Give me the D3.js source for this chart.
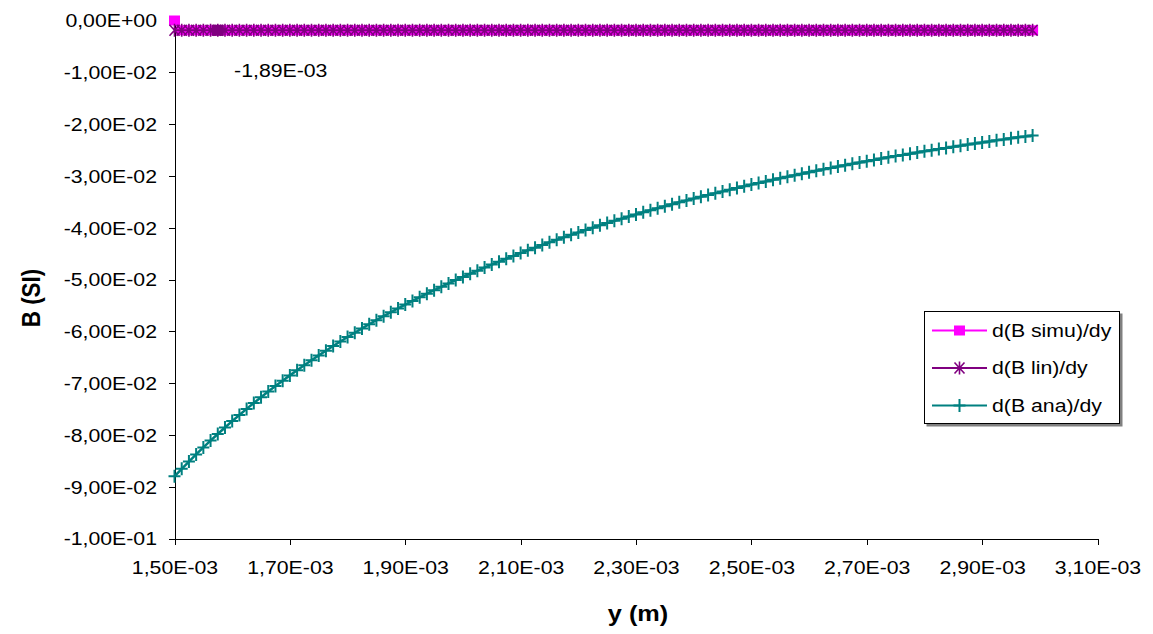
<!DOCTYPE html>
<html>
<head>
<meta charset="utf-8">
<script src="https://cdn.jsdelivr.net/npm/d3@7"></script>
<style>
  html, body { margin: 0; padding: 0; background: #fff; }
  svg { display: block; font-family: "Liberation Sans", Arial, sans-serif; }
</style>
</head>
<body>
<svg id="chart" width="1153" height="634"></svg>
<script>
// Sample positions along y, in millimetres (axis labels are in metres)
const positionsMm = [
  1.5, 1.5125, 1.525, 1.5375, 1.55, 1.5625, 1.575, 1.5875,
  1.6, 1.6125, 1.625, 1.6375, 1.65, 1.6625, 1.675, 1.6875,
  1.7, 1.7125, 1.725, 1.7375, 1.75, 1.7625, 1.775, 1.7875,
  1.8, 1.8125, 1.825, 1.8375, 1.85, 1.8625, 1.875, 1.8875,
  1.9, 1.9125, 1.925, 1.9375, 1.95, 1.9625, 1.975, 1.9875,
  2.0, 2.0125, 2.025, 2.0375, 2.05, 2.0625, 2.075, 2.0875,
  2.1, 2.1125, 2.125, 2.1375, 2.15, 2.1625, 2.175, 2.1875,
  2.2, 2.2125, 2.225, 2.2375, 2.25, 2.2625, 2.275, 2.2875,
  2.3, 2.3125, 2.325, 2.3375, 2.35, 2.3625, 2.375, 2.3875,
  2.4, 2.4125, 2.425, 2.4375, 2.45, 2.4625, 2.475, 2.4875,
  2.5, 2.5125, 2.525, 2.5375, 2.55, 2.5625, 2.575, 2.5875,
  2.6, 2.6125, 2.625, 2.6375, 2.65, 2.6625, 2.675, 2.6875,
  2.7, 2.7125, 2.725, 2.7375, 2.75, 2.7625, 2.775, 2.7875,
  2.8, 2.8125, 2.825, 2.8375, 2.85, 2.8625, 2.875, 2.8875,
  2.9, 2.9125, 2.925, 2.9375, 2.95, 2.9625, 2.975, 2.9875
];

// d(B ana)/dy
const dBanaDy = [
  -0.08800, -0.08655, -0.08514, -0.08376, -0.08241, -0.08110, -0.07982, -0.07857,
  -0.07734, -0.07615, -0.07498, -0.07384, -0.07273, -0.07164, -0.07057, -0.06953,
  -0.06851, -0.06752, -0.06654, -0.06559, -0.06465, -0.06374, -0.06285, -0.06197,
  -0.06111, -0.06027, -0.05945, -0.05864, -0.05785, -0.05708, -0.05632, -0.05558,
  -0.05485, -0.05413, -0.05343, -0.05275, -0.05207, -0.05141, -0.05076, -0.05012,
  -0.04950, -0.04889, -0.04829, -0.04770, -0.04712, -0.04655, -0.04599, -0.04544,
  -0.04490, -0.04437, -0.04385, -0.04334, -0.04283, -0.04234, -0.04186, -0.04138,
  -0.04091, -0.04045, -0.04000, -0.03955, -0.03911, -0.03868, -0.03826, -0.03784,
  -0.03743, -0.03703, -0.03663, -0.03624, -0.03585, -0.03548, -0.03510, -0.03474,
  -0.03438, -0.03402, -0.03367, -0.03333, -0.03299, -0.03265, -0.03232, -0.03200,
  -0.03168, -0.03137, -0.03106, -0.03075, -0.03045, -0.03015, -0.02986, -0.02957,
  -0.02929, -0.02901, -0.02874, -0.02846, -0.02820, -0.02793, -0.02767, -0.02741,
  -0.02716, -0.02691, -0.02666, -0.02642, -0.02618, -0.02595, -0.02571, -0.02548,
  -0.02526, -0.02503, -0.02481, -0.02459, -0.02438, -0.02416, -0.02396, -0.02375,
  -0.02354, -0.02334, -0.02314, -0.02295, -0.02275, -0.02256, -0.02237, -0.02219
];

// d(B simu)/dy
const dBsimuDy = [
  0.0, -0.00189, -0.00189, -0.00189, -0.00189, -0.00189, -0.00189, -0.00189,
  -0.00189, -0.00189, -0.00189, -0.00189, -0.00189, -0.00189, -0.00189, -0.00189,
  -0.00189, -0.00189, -0.00189, -0.00189, -0.00189, -0.00189, -0.00189, -0.00189,
  -0.00189, -0.00189, -0.00189, -0.00189, -0.00189, -0.00189, -0.00189, -0.00189,
  -0.00189, -0.00189, -0.00189, -0.00189, -0.00189, -0.00189, -0.00189, -0.00189,
  -0.00189, -0.00189, -0.00189, -0.00189, -0.00189, -0.00189, -0.00189, -0.00189,
  -0.00189, -0.00189, -0.00189, -0.00189, -0.00189, -0.00189, -0.00189, -0.00189,
  -0.00189, -0.00189, -0.00189, -0.00189, -0.00189, -0.00189, -0.00189, -0.00189,
  -0.00189, -0.00189, -0.00189, -0.00189, -0.00189, -0.00189, -0.00189, -0.00189,
  -0.00189, -0.00189, -0.00189, -0.00189, -0.00189, -0.00189, -0.00189, -0.00189,
  -0.00189, -0.00189, -0.00189, -0.00189, -0.00189, -0.00189, -0.00189, -0.00189,
  -0.00189, -0.00189, -0.00189, -0.00189, -0.00189, -0.00189, -0.00189, -0.00189,
  -0.00189, -0.00189, -0.00189, -0.00189, -0.00189, -0.00189, -0.00189, -0.00189,
  -0.00189, -0.00189, -0.00189, -0.00189, -0.00189, -0.00189, -0.00189, -0.00189,
  -0.00189, -0.00189, -0.00189, -0.00189, -0.00189, -0.00189, -0.00189, -0.00189
];

// d(B lin)/dy
const dBlinDy = [
  -0.00189, -0.00189, -0.00189, -0.00189, -0.00189, -0.00189, -0.00189, -0.00189,
  -0.00189, -0.00189, -0.00189, -0.00189, -0.00189, -0.00189, -0.00189, -0.00189,
  -0.00189, -0.00189, -0.00189, -0.00189, -0.00189, -0.00189, -0.00189, -0.00189,
  -0.00189, -0.00189, -0.00189, -0.00189, -0.00189, -0.00189, -0.00189, -0.00189,
  -0.00189, -0.00189, -0.00189, -0.00189, -0.00189, -0.00189, -0.00189, -0.00189,
  -0.00189, -0.00189, -0.00189, -0.00189, -0.00189, -0.00189, -0.00189, -0.00189,
  -0.00189, -0.00189, -0.00189, -0.00189, -0.00189, -0.00189, -0.00189, -0.00189,
  -0.00189, -0.00189, -0.00189, -0.00189, -0.00189, -0.00189, -0.00189, -0.00189,
  -0.00189, -0.00189, -0.00189, -0.00189, -0.00189, -0.00189, -0.00189, -0.00189,
  -0.00189, -0.00189, -0.00189, -0.00189, -0.00189, -0.00189, -0.00189, -0.00189,
  -0.00189, -0.00189, -0.00189, -0.00189, -0.00189, -0.00189, -0.00189, -0.00189,
  -0.00189, -0.00189, -0.00189, -0.00189, -0.00189, -0.00189, -0.00189, -0.00189,
  -0.00189, -0.00189, -0.00189, -0.00189, -0.00189, -0.00189, -0.00189, -0.00189,
  -0.00189, -0.00189, -0.00189, -0.00189, -0.00189, -0.00189, -0.00189, -0.00189,
  -0.00189, -0.00189, -0.00189, -0.00189, -0.00189, -0.00189, -0.00189, -0.00189
];

const seriesNames = ["d(B simu)/dy", "d(B lin)/dy", "d(B ana)/dy"];

const xTicksMm = [1.5, 1.7, 1.9, 2.1, 2.3, 2.5, 2.7, 2.9, 3.1];
const xTickLabels = ["1,50E-03", "1,70E-03", "1,90E-03", "2,10E-03", "2,30E-03",
                     "2,50E-03", "2,70E-03", "2,90E-03", "3,10E-03"];
const yTicks = [0, -0.01, -0.02, -0.03, -0.04, -0.05, -0.06, -0.07, -0.08, -0.09, -0.1];
const yTickLabels = ["0,00E+00", "-1,00E-02", "-2,00E-02", "-3,00E-02", "-4,00E-02",
                     "-5,00E-02", "-6,00E-02", "-7,00E-02", "-8,00E-02", "-9,00E-02", "-1,00E-01"];

const xTitle = "y (m)";
const yTitle = "B (SI)";
// point of the simu series that carries a value label
const labelledIndex = 6;

// ---- drawing ----
const SX = 1.15;           // horizontal stretch applied to all text
const FONT = 18.5;
const colors = { simu: "#ff00ff", lin: "#800080", ana: "#008080" };

const svg = d3.select("#chart");
const x = d3.scaleLinear().domain([1.5, 3.1]).range([174.5, 1097.5]);
const y = d3.scaleLinear().domain([-0.1, 0]).range([538.5, 20.5]);

function fmtSci(v) {
  const [m, e] = v.toExponential(2).split("e");
  const n = +e;
  return m.replace(".", ",") + "E" + (n < 0 ? "-" : "+") + String(Math.abs(n)).padStart(2, "0");
}

function label(parent, px, py, str, opts = {}) {
  const g = parent.append("g")
    .attr("transform", `translate(${px},${py}) scale(${SX},1)` + (opts.rotate ? ` rotate(${opts.rotate})` : ""));
  return g.append("text")
    .attr("text-anchor", opts.anchor || "start")
    .attr("dy", opts.dy || "0")
    .attr("font-size", opts.size || FONT)
    .attr("font-weight", opts.weight || "normal")
    .attr("fill", "#000")
    .text(str);
}

// axes
const yAxis = svg.append("g").attr("transform", "translate(174.5,0)")
  .call(d3.axisLeft(y).tickValues(yTicks).tickSize(6).tickSizeOuter(0)
    .tickFormat((d, i) => yTickLabels[i]));
yAxis.selectAll("text")
  .attr("font-size", FONT).attr("font-family", "Liberation Sans, Arial, sans-serif")
  .attr("fill", "#000")
  .attr("x", -17.5 / SX).attr("dy", "0.35em")
  .attr("transform", `scale(${SX},1)`);

const xAxis = svg.append("g").attr("transform", "translate(0,538.5)")
  .call(d3.axisBottom(x).tickValues(xTicksMm).tickSize(6).tickSizeOuter(0)
    .tickFormat((d, i) => xTickLabels[i]));
xAxis.selectAll(".tick text")
  .attr("font-size", FONT).attr("font-family", "Liberation Sans, Arial, sans-serif")
  .attr("fill", "#000")
  .attr("x", 0).attr("y", 22).attr("dy", "0.71em")
  .attr("transform", `scale(${SX},1)`);
svg.selectAll(".domain, .tick line").attr("stroke", "#000").attr("shape-rendering", "crispEdges");

// axis titles
label(svg, 638, 621, xTitle, { anchor: "middle", size: 22, weight: "bold" });
label(svg, 40, 298, yTitle, { anchor: "middle", size: 22.5, weight: "bold", rotate: -90 });

// series
const lineGen = d3.line().x((d, i) => x(positionsMm[i])).y(d => y(d));
const plot = svg.append("g");

const markSquare = (sel, c, w, h) => sel.append("rect")
  .attr("x", -w / 2).attr("y", -h / 2).attr("width", w).attr("height", h).attr("fill", c);
const markStar = (sel, c) => sel.append("path")
  .attr("d", "M-5,-5.5L5,5.5M-5,5.5L5,-5.5M0,-6.5V6.5")
  .attr("stroke", c).attr("stroke-width", 1.6).attr("fill", "none");
const markPlus = (sel, c) => sel.append("path")
  .attr("d", "M-6,0H6M0,-6.5V6.5")
  .attr("stroke", c).attr("stroke-width", 2).attr("fill", "none");

function drawSeries(values, color, width, marker) {
  plot.append("path").attr("d", lineGen(values))
    .attr("fill", "none").attr("stroke", color).attr("stroke-width", width);
  plot.append("g").selectAll("g").data(values).join("g")
    .attr("transform", (d, i) => `translate(${x(positionsMm[i])},${y(d)})`)
    .each(function () { marker(d3.select(this), color); });
}

drawSeries(dBsimuDy, colors.simu, 2, (s, c) => markSquare(s, c, 11, 10));
drawSeries(dBlinDy, colors.lin, 2, markStar);
drawSeries(dBanaDy, colors.ana, 2.5, markPlus);

// highlighted simu point and its value label
const lx = x(positionsMm[labelledIndex]), ly = y(dBsimuDy[labelledIndex]);
markSquare(plot.append("g").attr("transform", `translate(${lx},${ly})`), colors.lin, 12, 11);
label(svg, lx + 63, ly + 47, fmtSci(dBsimuDy[labelledIndex]), { anchor: "middle" });

// legend
const legend = svg.append("g");
legend.append("rect").attr("x", 926.5).attr("y", 313.5).attr("width", 196).attr("height", 113)
  .attr("fill", "#808080");
legend.append("rect").attr("x", 924.5).attr("y", 311.5).attr("width", 195).attr("height", 112)
  .attr("fill", "#fff").attr("stroke", "#000").attr("stroke-width", 1);
const legendRows = [
  { name: seriesNames[0], color: colors.simu, marker: (s, c) => markSquare(s, c, 11, 10) },
  { name: seriesNames[1], color: colors.lin, marker: markStar },
  { name: seriesNames[2], color: colors.ana, marker: markPlus }
];
legendRows.forEach((r, i) => {
  const ry = 330.5 + i * 37.5;
  legend.append("line").attr("x1", 932).attr("x2", 987).attr("y1", ry).attr("y2", ry)
    .attr("stroke", r.color).attr("stroke-width", 2);
  r.marker(legend.append("g").attr("transform", `translate(959.5,${ry})`), r.color);
  label(legend, 992, ry, r.name, { dy: "0.35em" });
});
</script>
</body>
</html>
